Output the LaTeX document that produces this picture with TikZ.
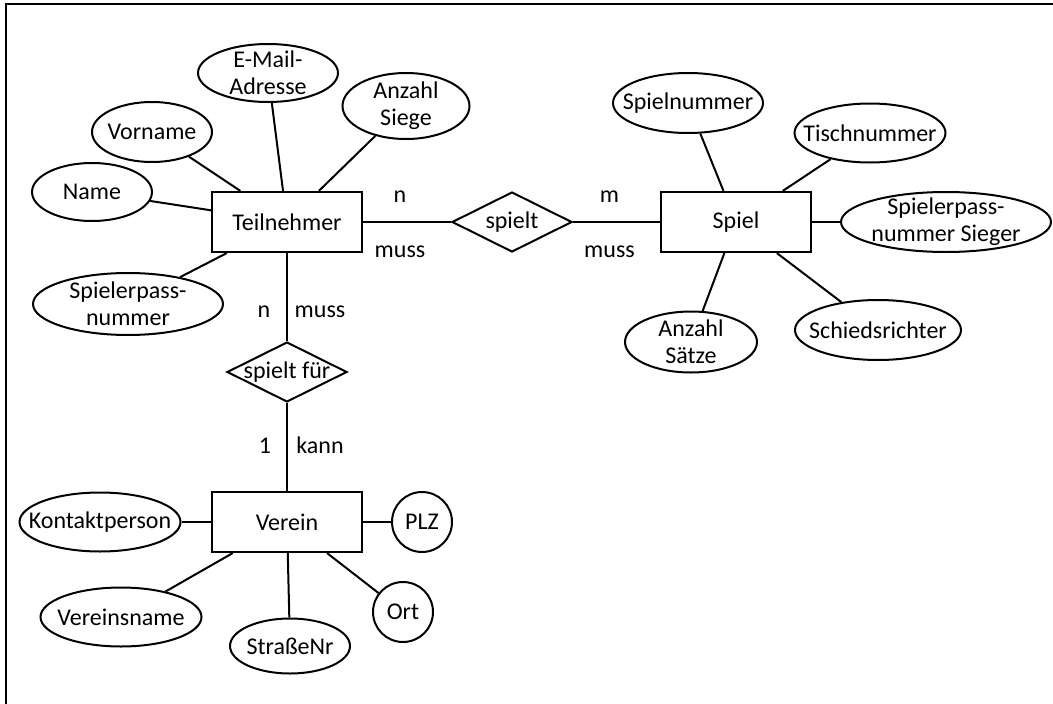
\documentclass[tikz,border=0pt]{standalone}
\usepackage{fontspec}
\setmainfont{Carlito}
\usetikzlibrary{shapes.geometric, positioning}
\tikzstyle{entity} = [rectangle, minimum width=150pt, minimum height=60pt, text centered, draw=black, line width=2.2pt]
\tikzstyle{relation} = [diamond, aspect=2, inner sep=-3pt, minimum width=120pt, minimum height=60pt, text centered, draw=black, line width=2pt]
\tikzstyle{attribute} = [ellipse, inner sep=-16pt, align=center, draw=black, line width=2pt]
\tikzstyle{keyattr} = [circle, inner sep=-4pt, minimum size=60pt, text centered, draw=black, line width=2pt]
\tikzstyle{conn} = [line width=2pt]
\tikzstyle{cardinality} = [anchor=base]
\begin{document}
\begin{tikzpicture}[x=1pt, y=1pt, node distance=100pt, every node/.style={font=\fontsize{24}{27}\selectfont}]
	    	\useasboundingbox (0,0) rectangle (1053,-704);
	    	\draw [line width=2.4pt] (1053,-4) -- (6,-4) -- (6,-704);
	    	
	    	\node (teilnehmer) [entity] at (287,-222) {Teilnehmer};
	    	\node (spielt) [relation, right of=teilnehmer, xshift=125pt] {spielt};
	    	\node (spiel) [entity, right of=spielt, xshift=124pt] {Spiel};
	    	\node (spieltfuer) [relation, below of=teilnehmer, yshift=-50pt] {spielt für};
	    	\node (verein) [entity, below of=spieltfuer, yshift=-50pt] {Verein};
	    	
	    	\node (name) [attribute, minimum width=120pt, minimum height=58pt, left of=teilnehmer, xshift=-95pt, yshift=30pt] {Name};
	    	\node (vorname) [attribute, minimum width=120pt, minimum height=60pt, left of=teilnehmer, xshift=-35pt, yshift=90pt] {Vorname};
	    	\node (email) [attribute, minimum width=140pt, minimum height=58pt, above of=teilnehmer, xshift=-19pt, yshift=49pt] {E-Mail-\\Adresse};
	    	\node (siege) [attribute, minimum width=127pt, minimum height=66pt, above of=teilnehmer, xshift=119pt, yshift=16pt] {Anzahl\\Siege};
	    	\node (passnr) [attribute, minimum width=190pt, minimum height=62pt, left of=teilnehmer, xshift=-59pt, yshift=-82pt] {Spielerpass-\\nummer};
	    	
	    	\node (spielnr) [attribute, minimum width=150pt, minimum height=60pt, above of=spiel, xshift=-48pt, yshift=19pt] {Spielnummer};
	    	\node (tischnr) [attribute, minimum width=151pt, minimum height=59pt, above of=spiel, xshift=134pt, yshift=-11pt] {Tischnummer};
	    	\node (passsieger) [attribute, minimum width=210pt, minimum height=60pt, right of=spiel, xshift=110pt] {Spielerpass-\\nummer Sieger};
	    	\node (saetze) [attribute, minimum width=132pt, minimum height=61pt, below of=spiel, xshift=-45pt, yshift=-20pt] {Anzahl\\Sätze};
	    	\node (schiri) [attribute, minimum width=166pt, minimum height=60pt, below of=spiel, xshift=142pt, yshift=-8pt] {Schiedsrichter};
	    	
	    	\node (kontakt) [attribute, minimum width=161pt, minimum height=59pt, left of=verein, xshift=-87pt] {Kontaktperson};
	    	\node (plz) [keyattr, right of=verein, xshift=35pt] {PLZ};
	    	\node (vname) [attribute, minimum width=161pt, minimum height=59pt, left of=verein, xshift=-66pt, yshift=-95pt] {Vereinsname};
	    	\node (strasse) [attribute, minimum width=120pt, minimum height=55pt, below of=verein, xshift=3pt, yshift=-24pt] {StraßeNr};
	    	\node (ort) [keyattr, right of=verein, xshift=16pt, yshift=-90pt] {Ort};
	    	
	    	\draw [conn] (teilnehmer) -- node[cardinality, pos=0.42, yshift=20pt] {n} node[cardinality, pos=0.42, yshift=-35pt] {muss} (spielt);
	    	\draw [conn] (spielt) -- node[cardinality, pos=0.42, yshift=20pt] {m} node[cardinality, pos=0.42, yshift=-35pt] {muss} (spiel);
	    	\draw [conn] (teilnehmer) -- node[cardinality, pos=0.73, xshift=-23pt] {n} node[cardinality, pos=0.73, xshift=33pt] {muss} (spieltfuer);
	    	\draw [conn] (spieltfuer) -- node[cardinality, pos=0.57, xshift=-22pt] {1} node[cardinality, pos=0.57, xshift=33pt] {kann} (verein);
	    	
	    	\draw [conn] (teilnehmer) -- (name);
	    	\draw [conn] (teilnehmer) -- (vorname);
	    	\draw [conn] (teilnehmer) -- (email);
	    	\draw [conn] (teilnehmer) -- (siege);
	    	\draw [conn] (teilnehmer) -- (passnr);
	    	
	    	\draw [conn] (spiel) -- (spielnr);
	    	\draw [conn] (spiel) -- (tischnr);
	    	\draw [conn] (spiel) -- (passsieger);
	    	\draw [conn] (spiel) -- (saetze);
	    	\draw [conn] (spiel) -- (schiri);
	    	
	    	\draw [conn] (verein) -- (kontakt);
	    	\draw [conn] (verein) -- (plz);
	    	\draw [conn] (verein) -- (vname);
	    	\draw [conn] (verein) -- (strasse);
	    	\draw [conn] (verein) -- (ort);
\end{tikzpicture}
\end{document}
